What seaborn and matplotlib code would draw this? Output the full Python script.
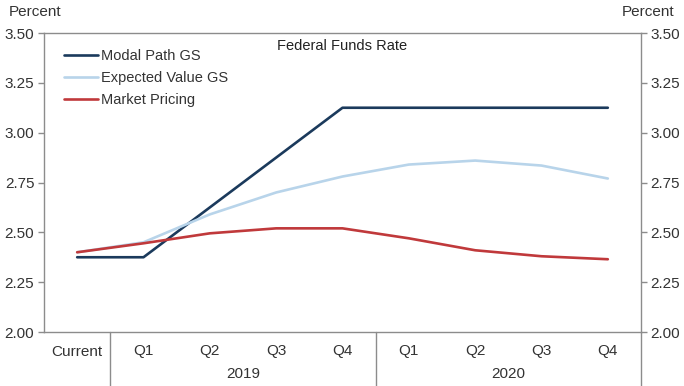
import numpy as np
import pandas as pd
import matplotlib
matplotlib.use("Agg")
import matplotlib.pyplot as plt
import matplotlib.transforms as mtransforms
import seaborn as sns

sns.set_style("white")
plt.rcParams['font.family'] = ['Liberation Sans', 'DejaVu Sans']

# Dados
periodos = ["Current", "Q1", "Q2", "Q3", "Q4", "Q1", "Q2", "Q3", "Q4"]
anos = ["2019", "2020"]
modal_path = [2.375, 2.375, 2.625, 2.875, 3.125, 3.125, 3.125, 3.125, 3.125]
expected_value = [2.40, 2.45, 2.59, 2.70, 2.78, 2.84, 2.86, 2.835, 2.77]
market_pricing = [2.40, 2.445, 2.495, 2.52, 2.52, 2.47, 2.41, 2.38, 2.365]

series = {
    "Modal Path GS": modal_path,
    "Expected Value GS": expected_value,
    "Market Pricing": market_pricing,
}
cores = {
    "Modal Path GS": "#1B3A5C",
    "Expected Value GS": "#B8D4EA",
    "Market Pricing": "#C0393B",
}

df = pd.DataFrame([
    {"pos": i, "valor": v, "serie": nome}
    for nome, vals in series.items()
    for i, v in enumerate(vals)
])

fig = plt.figure(figsize=(6.84, 3.86), dpi=100)
ax = fig.add_axes([44 / 684, 54 / 386, 597 / 684, 299 / 386])

sns.lineplot(data=df, x="pos", y="valor", hue="serie", palette=cores,
             hue_order=list(series.keys()), linewidth=1.9, ax=ax)

ax.set_xlim(-0.5, 8.5)
ax.set_ylim(2.0, 3.5)
ax.set_yticks(np.arange(2.0, 3.51, 0.25))
ax.set_yticklabels([f"{v:.2f}" for v in np.arange(2.0, 3.51, 0.25)])
ax.set_xlabel("")
ax.set_ylabel("")

cinza = "#8C8C8C"
texto = "#333333"
for s in ax.spines.values():
    s.set_color(cinza)
    s.set_linewidth(1.0)

ax.tick_params(axis="y", which="both", left=True, right=True, labelleft=True,
               labelright=True, length=4, width=1, color=cinza, direction="out",
               labelsize=11, labelcolor=texto, pad=3)

# Eixo de categorias em dois níveis
ax.set_xticks([1.5, 2.5, 3.5, 5.5, 6.5, 7.5])
ax.set_xticklabels([])
ax.tick_params(axis="x", which="major", length=27, width=1, color=cinza, direction="out")
ax.set_xticks(range(len(periodos)), minor=True)
ax.set_xticklabels(periodos, minor=True)
ax.tick_params(axis="x", which="minor", length=0, labelsize=11,
               labelcolor=texto, pad=9)

trans = mtransforms.blended_transform_factory(ax.transData, ax.transAxes)
for xb in [0.5, 4.5, 8.5]:
    ax.plot([xb, xb], [0, -0.19], color=cinza, lw=1, transform=trans, clip_on=False)

ax.text(2.5, -0.14, anos[0], transform=trans, ha="center", va="center",
        fontsize=11, color=texto)
ax.text(6.5, -0.14, anos[1], transform=trans, ha="center", va="center",
        fontsize=11, color=texto)

ax.text(0.5, 0.955, "Federal Funds Rate", transform=ax.transAxes, ha="center",
        va="center", fontsize=10.5, color="#222222")

fig.text(35 / 684, 1 - 12 / 386, "Percent", ha="center", va="center",
         fontsize=11, color=texto)
fig.text(648 / 684, 1 - 12 / 386, "Percent", ha="center", va="center",
         fontsize=11, color=texto)

ax.legend(loc="upper left", bbox_to_anchor=(0.012, 0.99), frameon=False,
          fontsize=10.5, handlelength=2.3, handletextpad=0.2, labelspacing=0.55,
          labelcolor=texto)

fig.savefig("out.png", dpi=100)
